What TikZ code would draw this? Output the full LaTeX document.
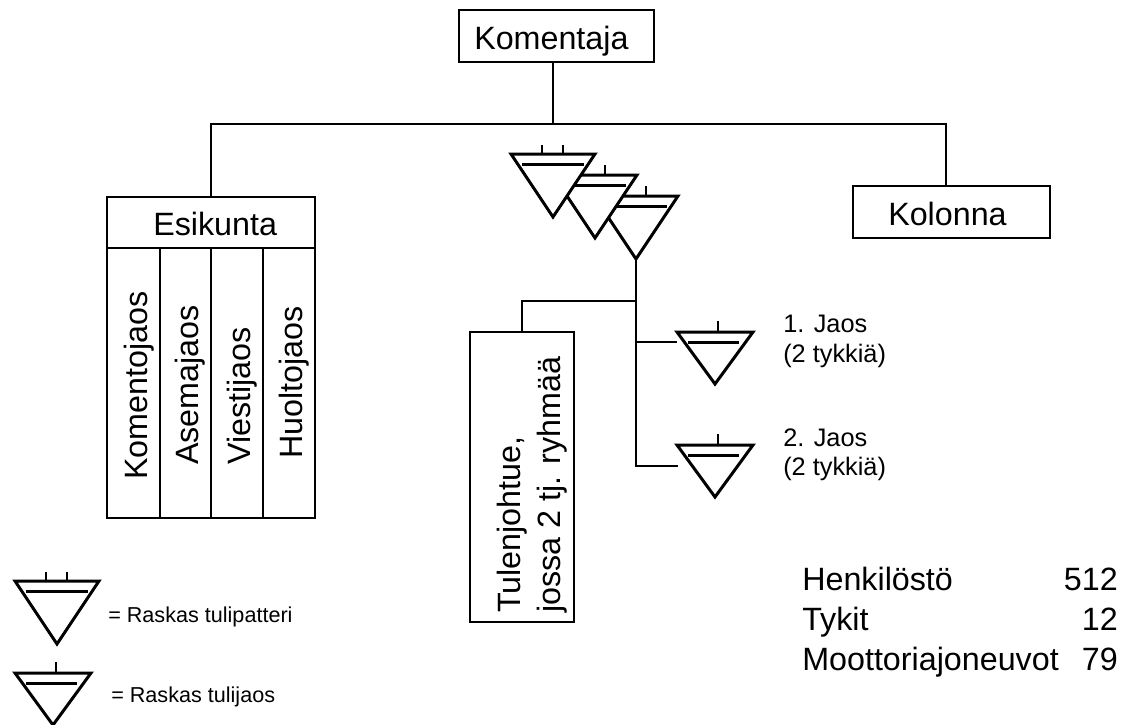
\documentclass[tikz,border=0pt]{standalone}
\usepackage{fontspec}
\setmainfont{Liberation Sans}
\newdimen\px
\px=0.75pt
\tikzset{
	viiva/.style={line width=1.4\px},
	laatikko/.style={draw,line width=1.5\px,fill=white,inner sep=0pt,outer sep=0pt},
	iso/.style={font=\fontsize{24.2}{30}\selectfont,inner sep=0pt,anchor=base west},
	pysty/.style={iso,rotate=90},
	pieni/.style={font=\fontsize{19}{22}\selectfont,inner sep=0pt,anchor=base west},
	selite/.style={font=\fontsize{16.2}{20}\selectfont,inner sep=0pt,anchor=base west},
	patteri/.pic={
		\draw[line width=3\px,fill=white,line join=miter] (-42,0) -- (42,0) -- (0,63) -- cycle;
		\draw[line width=2.4\px] (-31,10.5) -- (31,10.5);
		\draw[line width=2.4\px] (-11,0) -- (-11,-9);
		\draw[line width=2.4\px] (10,0) -- (10,-9);
		\coordinate (-karki) at (0,63);
	},
	yksi/.pic={
		\draw[line width=3\px,fill=white,line join=miter] (-42,0) -- (42,0) -- (0,63) -- cycle;
		\draw[line width=2.4\px] (-31,10.5) -- (31,10.5);
		\draw[line width=2.4\px] (10,0) -- (10,-10);
		\coordinate (-karki) at (0,63);
	},
	jaos/.pic={
		\draw[line width=3\px,fill=white,line join=miter] (-38,0) -- (38,0) -- (0,52) -- cycle;
		\draw[line width=2.4\px] (-27,10.5) -- (24,10.5);
		\draw[line width=2.4\px] (3,0) -- (3,-11);
		\coordinate (-vasen) at (-38,10);
	}
}
\begin{document}
\begin{tikzpicture}[x=1\px,y=-1\px]
	\useasboundingbox (0,0) rectangle (1130,724);
	% komentaja ja esikunta
	\node[laatikko,minimum width=195\px,minimum height=52\px] (komentaja) at (556.5,36) {};
	\node[iso] (komentajateksti) at (474,49.5) {Komentaja};
	\node[laatikko,minimum width=208\px,minimum height=51\px] (esikunta) at (211,222.5) {};
	\node[iso] (esikuntateksti) at (153,235) {Esikunta};
	\node[laatikko,minimum width=53\px,minimum height=270\px] (jaosA) at (133.5,383) {};
	\node[laatikko,minimum width=51\px,minimum height=270\px] (jaosB) at (185.5,383) {};
	\node[laatikko,minimum width=52\px,minimum height=270\px] (jaosC) at (237,383) {};
	\node[laatikko,minimum width=52\px,minimum height=270\px] (jaosD) at (289,383) {};
	\node[pysty] (jaosAteksti) at (147,480) {Komentojaos};
	\node[pysty] (jaosBteksti) at (198,465) {Asemajaos};
	\node[pysty] (jaosCteksti) at (250,465) {Viestijaos};
	\node[pysty] (jaosDteksti) at (302,459) {Huoltojaos};
	\node[laatikko,minimum width=197\px,minimum height=52\px] (kolonna) at (951.5,212) {};
	\node[iso] (kolonnateksti) at (888,225) {Kolonna};
	\node[laatikko,minimum width=104\px,minimum height=290\px] (tulenjohtue) at (522,477) {};
	\node[pysty] (tulenA) at (520,613) {Tulenjohtue,};
	\node[pysty] (tulenB) at (560,613) {jossa 2 tj. ryhmää};
	% patterit, viimeinen alimmaksi
	\pic (p3) at (636,196) {yksi};
	\pic (p2) at (595,175) {yksi};
	\pic (p1) at (553,154) {patteri};
	\pic (j1) at (715,332) {jaos};
	\pic (j2) at (715,445) {jaos};
	% yhteydet
	\coordinate (ylos) at (553,124);
	\coordinate (kolonnaliitos) at (946,186);
	\coordinate (haara) at (636,301);
	\coordinate (haara1) at (636,342);
	\coordinate (loppu) at (636,466);
	\coordinate (j2vapaa) at (678,466);
	\draw[viiva] (komentaja.south -| ylos) -- (ylos);
	\draw[viiva] (esikunta.north) |- (ylos) -| (kolonnaliitos);
	\draw[viiva] (p3-karki) -- (loppu) -- (j2vapaa);
	\draw[viiva] (haara1) -- (j1-vasen);
	\draw[viiva] (tulenjohtue.north) |- (haara);
	% tekstit
	\node[pieni] (jaos1a) at (783,332) {1. Jaos};
	\node[pieni] (jaos1b) at (783,362) {(2 tykkiä)};
	\node[pieni] (jaos2a) at (783,446) {2. Jaos};
	\node[pieni] (jaos2b) at (783,475) {(2 tykkiä)};
	\node[iso] (henk) at (802,590) {Henkilöstö};
	\node[iso] (tyk) at (802,630) {Tykit};
	\node[iso] (moot) at (802,670) {Moottoriajoneuvot};
	\node[iso,anchor=base east] (henkluku) at (1118,590) {512};
	\node[iso,anchor=base east] (tykluku) at (1118,630) {12};
	\node[iso,anchor=base east] (mootluku) at (1118,670) {79};
	% selitteet
	\pic (s1) at (57,581) {patteri};
	\pic (s2) at (53,673) {jaos};
	\node[selite] (selite1) at (108,622) {= Raskas tulipatteri};
	\node[selite] (selite2) at (111,702) {= Raskas tulijaos};
\end{tikzpicture}
\end{document}
